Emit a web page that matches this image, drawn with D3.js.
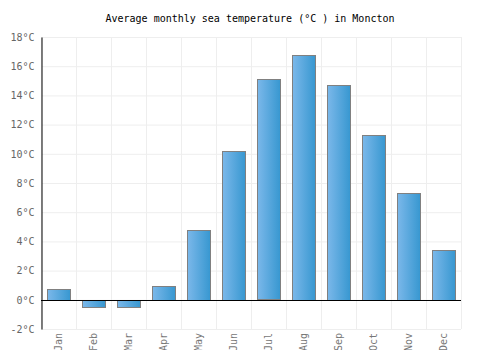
<html>
<head>
<script src="https://cdn.jsdelivr.net/npm/d3@7"></script>
<style>
  body { margin: 0; background: #fff; }
  text { font-family: "DejaVu Sans Mono", monospace; }
</style>
</head>
<body>
<svg id="chart" width="500" height="350"></svg>
<script>
  let months = ["Jan", "Feb", "Mar", "Apr", "May", "Jun", "Jul", "Aug", "Sep", "Oct", "Nov", "Dec"]
  let temps = [0.75, -0.5, -0.5, 0.95, 4.8, 10.2, 15.1, 16.8, 14.7, 11.3, 7.3, 3.4]
  let yTicks = [-2, 0, 2, 4, 6, 8, 10, 12, 14, 16, 18]

  let svg = d3.select("#chart")
  let plotLeft = 41, plotRight = 461, plotTop = 37, plotBottom = 329

  let x = d3.scaleBand().domain(months).range([plotLeft, plotRight]).paddingInner(0.34).paddingOuter(0.17)
  let xGrid = d3.scaleBand().domain(months).range([plotLeft, plotRight])
  let y = d3.scaleLinear().domain([-2, 18]).range([plotBottom, plotTop])

  let grad = svg.append("defs").append("linearGradient").attr("id", "barGrad")
  grad.append("stop").attr("offset", "0%").attr("stop-color", "#7bb8ea")
  grad.append("stop").attr("offset", "100%").attr("stop-color", "#3797d0")

  // grid
  svg.append("g").selectAll("line").data(yTicks).join("line")
    .attr("x1", plotLeft).attr("x2", plotRight)
    .attr("y1", d => y(d) + 0.5).attr("y2", d => y(d) + 0.5)
    .attr("stroke", "#eeeeee")
  svg.append("g").selectAll("line").data(months.concat(["end"])).join("line")
    .attr("x1", d => (d == "end" ? plotRight : xGrid(d)) + 0.5)
    .attr("x2", d => (d == "end" ? plotRight : xGrid(d)) + 0.5)
    .attr("y1", plotTop).attr("y2", plotBottom)
    .attr("stroke", "#eeeeee")

  // bars
  svg.append("g").selectAll("rect").data(temps).join("rect")
    .attr("x", (d, i) => Math.round(x(months[i])) + 0.5)
    .attr("width", Math.round(x.bandwidth()))
    .attr("y", d => Math.round(y(Math.max(d, 0))) + 0.5)
    .attr("height", d => Math.round(Math.abs(y(d) - y(0))))
    .attr("fill", "url(#barGrad)")
    .attr("stroke", "#808080")

  // zero line
  svg.append("line")
    .attr("x1", plotLeft).attr("x2", plotRight)
    .attr("y1", Math.round(y(0)) + 0.5).attr("y2", Math.round(y(0)) + 0.5)
    .attr("stroke", "#000")

  // y axis
  let yAxis = d3.axisLeft(y).tickValues(yTicks).tickSize(0).tickPadding(7).tickFormat(d => d + "°C")
  let yg = svg.append("g").attr("transform", `translate(${plotLeft + 0.5},0)`).call(yAxis)
  yg.select(".domain").attr("stroke", "#000")
  yg.selectAll("text").attr("fill", "#666").style("font-size", "10px")
    .style("font-family", '"DejaVu Sans Mono", monospace')

  // x axis labels
  let xAxis = d3.axisBottom(xGrid).tickSize(0).tickPadding(0)
  let xg = svg.append("g").attr("transform", `translate(0,${plotBottom})`).call(xAxis)
  xg.select(".domain").remove()
  xg.selectAll("text")
    .attr("fill", "#777").style("font-size", "10px")
    .style("font-family", '"DejaVu Sans Mono", monospace')
    .attr("text-anchor", "end")
    .attr("dy", "0.35em")
    .attr("transform", "translate(0,4) rotate(-90)")
    .attr("y", 0).attr("x", 0)

  svg.append("text")
    .attr("x", 250).attr("y", 22)
    .attr("text-anchor", "middle")
    .style("font-size", "10px")
    .attr("fill", "#000")
    .text("Average monthly sea temperature (°C ) in Moncton")
</script>
</body>
</html>
